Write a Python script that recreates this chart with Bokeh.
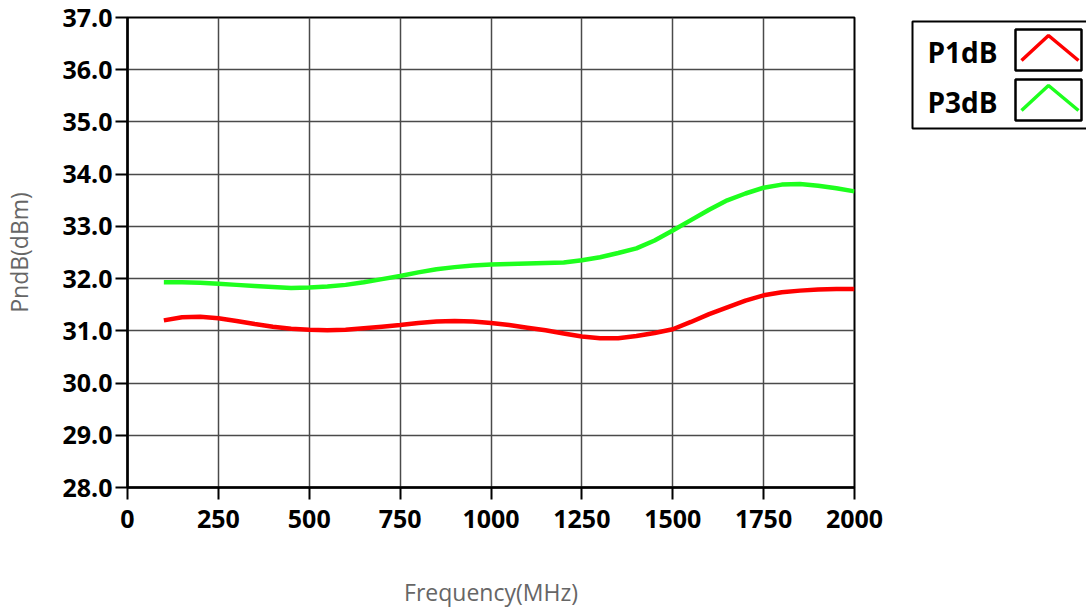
from bokeh.plotting import figure
from bokeh.layouts import row
from bokeh.models import Range1d, FixedTicker, PrintfTickFormatter, ColumnDataSource
from bokeh.core.properties import value
from bokeh.embed import file_html
from bokeh.resources import INLINE

# ---- data ----
freq = [100, 150, 200, 250, 300, 350, 400, 450, 500, 550, 600, 650, 700, 750,
        800, 850, 900, 950, 1000, 1050, 1100, 1150, 1200, 1250, 1300, 1350,
        1400, 1450, 1500, 1550, 1600, 1650, 1700, 1750, 1800, 1850, 1900,
        1950, 2000]
p1db = [31.20, 31.26, 31.27, 31.24, 31.19, 31.13, 31.08, 31.04, 31.02, 31.01,
        31.02, 31.05, 31.08, 31.11, 31.15, 31.18, 31.19, 31.18, 31.15, 31.11,
        31.06, 31.01, 30.95, 30.89, 30.86, 30.86, 30.90, 30.96, 31.03, 31.17,
        31.32, 31.45, 31.58, 31.68, 31.74, 31.77, 31.79, 31.80, 31.80]
p3db = [31.93, 31.93, 31.92, 31.90, 31.88, 31.86, 31.84, 31.82, 31.83, 31.85,
        31.88, 31.93, 31.99, 32.05, 32.12, 32.18, 32.22, 32.25, 32.27, 32.28,
        32.29, 32.30, 32.31, 32.35, 32.41, 32.49, 32.58, 32.73, 32.92, 33.12,
        33.32, 33.50, 33.63, 33.74, 33.80, 33.81, 33.78, 33.73, 33.67]
x_ticks = [0, 250, 500, 750, 1000, 1250, 1500, 1750, 2000]
y_ticks = [28, 29, 30, 31, 32, 33, 34, 35, 36, 37]
series_names = ["P1dB", "P3dB"]
series_colors = ["#ff0000", "#1eff1e"]
x_title = "Frequency(MHz)"
y_title = "PndB(dBm)"

FONT = "Open Sans"

src = ColumnDataSource(dict(freq=freq, p1db=p1db, p3db=p3db))

p = figure(width=904, height=612, output_backend="svg", toolbar_location=None,
           x_range=Range1d(0, 2000), y_range=Range1d(28, 37),
           min_border_left=127, min_border_top=17, min_border_right=50,
           min_border_bottom=125)
p.background_fill_color = "white"
p.border_fill_color = "white"
p.outline_line_color = "black"
p.outline_line_width = 2

for ax in (p.xaxis[0], p.yaxis[0]):
    ax.major_label_text_font = FONT
    ax.major_label_text_font_style = "bold"
    ax.major_label_text_font_size = "25px"
    ax.major_label_text_color = "black"
    ax.axis_line_color = "black"
    ax.axis_line_width = 2.5
    ax.major_tick_line_color = "black"
    ax.major_tick_line_width = 2
    ax.major_tick_out = 12
    ax.major_tick_in = 0
    ax.minor_tick_line_color = None
    ax.axis_label_text_font = FONT
    ax.axis_label_text_font_style = "normal"
    ax.axis_label_text_font_size = "23px"
    ax.axis_label_text_color = "#666666"

p.xaxis.ticker = FixedTicker(ticks=x_ticks)
p.yaxis.ticker = FixedTicker(ticks=y_ticks)
p.yaxis.formatter = PrintfTickFormatter(format="%.1f")
p.xaxis.major_label_standoff = 10
p.yaxis.major_label_standoff = 3
p.xaxis.axis_label = x_title
p.yaxis.axis_label = y_title
p.xaxis.axis_label_standoff = 45
p.yaxis.axis_label_standoff = 24

p.xgrid.ticker = FixedTicker(ticks=x_ticks)
p.ygrid.ticker = FixedTicker(ticks=y_ticks)
p.grid.grid_line_color = "#4a4a4a"
p.grid.grid_line_width = 1.5

p.line("freq", "p1db", source=src, color=series_colors[0], line_width=4.5)
p.line("freq", "p3db", source=src, color=series_colors[1], line_width=4.5)

# ---- legend panel (label left, chevron icon right); y in page pixels ----
lg = figure(width=182, height=612, output_backend="svg", toolbar_location=None,
            x_range=Range1d(0, 182), y_range=Range1d(487, 17),
            min_border=0, min_border_left=0, min_border_right=0,
            min_border_top=17, min_border_bottom=125)
lg.axis.visible = False
lg.grid.visible = False
lg.outline_line_color = None
lg.background_fill_color = "white"
lg.border_fill_color = "white"

lg.quad(left=8, right=230, top=21, bottom=128, fill_color="white",
        line_color="black", line_width=2)
row_centers = [50, 100]
for name, color, yc in zip(series_names, series_colors, row_centers):
    lg.text(x=[23], y=[yc + 1], text=[name], text_font=value(FONT),
            text_font_style="bold", text_font_size="28px",
            text_baseline="middle", text_align="left", text_color="black")
    lg.quad(left=111, right=177, top=yc - 21, bottom=yc + 20,
            fill_color="white", line_color="black", line_width=2.5)
    lg.line(x=[117, 144, 174], y=[yc + 10, yc - 15, yc + 10], color=color,
            line_width=3.5)

layout = row(p, lg, spacing=0)
open("out.html", "w").write(file_html(layout, INLINE))
